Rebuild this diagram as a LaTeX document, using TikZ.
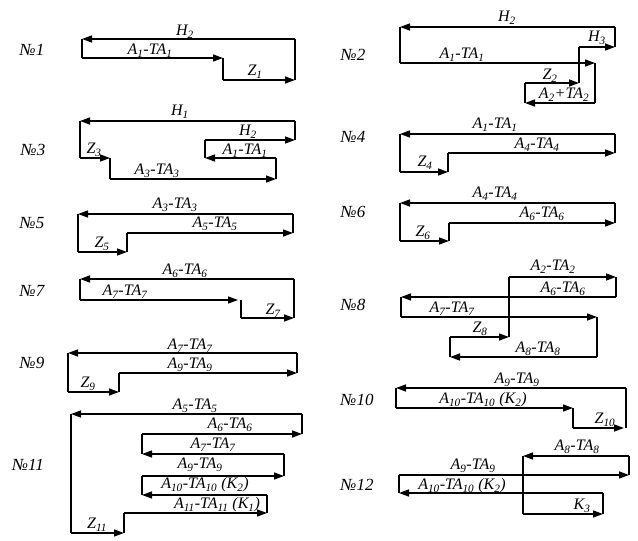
\documentclass[tikz,border=0pt]{standalone}
\usepackage{fontspec}
\setmainfont{Liberation Serif}
\usetikzlibrary{arrows.meta}
\newcommand\subs[1]{\textsubscript{#1}}
\tikzset{
  dim/.style={line width=1.4pt,-{Triangle[length=10pt,width=7pt]}},
  ln/.style={line width=1.4pt},
  lab/.style={font=\fontsize{16}{18}\selectfont\itshape,inner sep=0pt},
  num/.style={font=\fontsize{17}{19}\selectfont\itshape,inner sep=0pt}
}
\begin{document}
\begin{tikzpicture}[x=1pt,y=-1pt]
\useasboundingbox (0,0) rectangle (638,541);
% No1
\node[num] (n1) at (32,50) {№1};
\draw[dim] (295,39)--(82,39); \draw[ln] (295,39)--(295,80); \draw[ln] (82,39)--(82,58);
\draw[dim] (82,58)--(223,58); \draw[ln] (223,58)--(223,80); \draw[dim] (223,80)--(295,80);
\node[lab] (t1a) at (185,32) {H\subs2};
\node[lab] (t1b) at (150,51) {A\subs1-TA\subs1};
\node[lab] (t1c) at (255,72) {Z\subs1};
% No2
\node[num] (n2) at (353,55) {№2};
\draw[dim] (615,27)--(400,27); \draw[ln] (400,27)--(400,63); \draw[dim] (400,63)--(595,63);
\draw[ln] (595,63)--(595,103); \draw[dim] (595,103)--(525,103); \draw[ln] (525,103)--(525,83);
\draw[dim] (525,83)--(579,83); \draw[ln] (579,83)--(579,47); \draw[dim] (579,47)--(615,47);
\draw[ln] (615,47)--(615,27);
\node[lab] (t2a) at (507,18) {H\subs2};
\node[lab] (t2b) at (597,38) {H\subs3};
\node[lab] (t2c) at (462,55) {A\subs1-TA\subs1};
\node[lab] (t2d) at (550,76) {Z\subs2};
\node[lab] (t2e) at (564,95) {A\subs2+TA\subs2};
% No3
\node[num] (n3) at (33,150) {№3};
\draw[dim] (295,121)--(80,121); \draw[ln] (295,121)--(295,140); \draw[dim] (205,140)--(295,140);
\draw[ln] (205,140)--(205,158); \draw[dim] (276,158)--(205,158); \draw[ln] (276,158)--(276,179);
\draw[dim] (110,179)--(276,179); \draw[ln] (110,179)--(110,158); \draw[dim] (80,158)--(110,158);
\draw[ln] (80,158)--(80,121);
\node[lab] (t3a) at (180,112) {H\subs1};
\node[lab] (t3b) at (248,132) {H\subs2};
\node[lab] (t3c) at (245,151) {A\subs1-TA\subs1};
\node[lab] (t3d) at (94,150) {Z\subs3};
\node[lab] (t3e) at (157,171) {A\subs3-TA\subs3};
% No4
\node[num] (n4) at (353,137) {№4};
\draw[dim] (615,134)--(400,134); \draw[ln] (615,134)--(615,153); \draw[dim] (448,153)--(615,153);
\draw[ln] (448,153)--(448,172); \draw[dim] (400,172)--(448,172); \draw[ln] (400,172)--(400,134);
\node[lab] (t4a) at (495,125) {A\subs1-TA\subs1};
\node[lab] (t4b) at (537,145) {A\subs4-TA\subs4};
\node[lab] (t4c) at (425,163) {Z\subs4};
% No5
\node[num] (n5) at (32,223) {№5};
\draw[dim] (293,214)--(78,214); \draw[ln] (293,214)--(293,233); \draw[dim] (127,233)--(293,233);
\draw[ln] (127,233)--(127,252); \draw[dim] (78,252)--(127,252); \draw[ln] (78,252)--(78,214);
\node[lab] (t5a) at (175,205) {A\subs3-TA\subs3};
\node[lab] (t5b) at (215,224) {A\subs5-TA\subs5};
\node[lab] (t5c) at (102,244) {Z\subs5};
% No6
\node[num] (n6) at (353,212) {№6};
\draw[dim] (615,203)--(400,203); \draw[ln] (615,203)--(615,223); \draw[dim] (449,223)--(615,223);
\draw[ln] (449,223)--(449,241); \draw[dim] (400,241)--(449,241); \draw[ln] (400,241)--(400,203);
\node[lab] (t6a) at (495,194) {A\subs4-TA\subs4};
\node[lab] (t6b) at (542,214) {A\subs6-TA\subs6};
\node[lab] (t6c) at (423,233) {Z\subs6};
% No7
\node[num] (n7) at (32,291) {№7};
\draw[dim] (294,279)--(80,279); \draw[ln] (80,279)--(80,300); \draw[dim] (80,300)--(238,300);
\draw[ln] (241,300)--(241,318); \draw[dim] (241,318)--(294,318); \draw[ln] (294,318)--(294,279);
\node[lab] (t7a) at (185,271) {A\subs6-TA\subs6};
\node[lab] (t7b) at (125,292) {A\subs7-TA\subs7};
\node[lab] (t7c) at (273,311) {Z\subs7};
% No8
\node[num] (n8) at (353,305) {№8};
\draw[dim] (509,277)--(616,277); \draw[ln] (616,277)--(616,297); \draw[dim] (616,297)--(401,297);
\draw[ln] (401,297)--(401,317); \draw[dim] (401,317)--(597,317); \draw[ln] (597,317)--(597,357);
\draw[dim] (597,357)--(450,357); \draw[ln] (450,357)--(450,337); \draw[dim] (450,337)--(509,337);
\draw[ln] (509,337)--(509,277);
\node[lab] (t8a) at (553,267) {A\subs2-TA\subs2};
\node[lab] (t8b) at (563,289) {A\subs6-TA\subs6};
\node[lab] (t8c) at (452,309) {A\subs7-TA\subs7};
\node[lab] (t8d) at (480,329) {Z\subs8};
\node[lab] (t8e) at (538,349) {A\subs8-TA\subs8};
% No9
\node[num] (n9) at (32,363) {№9};
\draw[dim] (297,353)--(68,353); \draw[ln] (297,353)--(297,373); \draw[dim] (119,373)--(297,373);
\draw[ln] (119,373)--(119,392); \draw[dim] (68,392)--(119,392); \draw[ln] (68,392)--(68,353);
\node[lab] (t9a) at (190,346) {A\subs7-TA\subs7};
\node[lab] (t9b) at (190,365) {A\subs9-TA\subs9};
\node[lab] (t9c) at (88,384) {Z\subs9};
% No10
\node[num] (n10) at (357,400) {№10};
\draw[dim] (626,388)--(396,388); \draw[ln] (396,388)--(396,408); \draw[dim] (396,408)--(573,408);
\draw[ln] (573,408)--(573,428); \draw[dim] (573,428)--(624,428); \draw[ln] (626,388)--(626,428);
\node[lab] (t10a) at (517,380) {A\subs9-TA\subs9};
\node[lab] (t10b) at (483,400) {A\subs{10}-TA\subs{10} (K\subs2)};
\node[lab] (t10c) at (605,420) {Z\subs{10}};
% No11
\node[num] (n11) at (28,465) {№11};
\draw[dim] (302,414)--(71,414); \draw[ln] (302,414)--(302,434); \draw[dim] (142,434)--(302,434);
\draw[ln] (142,434)--(142,454); \draw[dim] (284,454)--(142,454); \draw[ln] (284,454)--(284,476);
\draw[dim] (142,476)--(284,476); \draw[ln] (142,476)--(142,495); \draw[dim] (267,495)--(142,495);
\draw[ln] (267,495)--(267,513); \draw[dim] (124,513)--(267,513); \draw[ln] (124,513)--(124,533);
\draw[dim] (71,533)--(124,533); \draw[ln] (71,533)--(71,414);
\node[lab] (t11a) at (195,406) {A\subs5-TA\subs5};
\node[lab] (t11b) at (230,425) {A\subs6-TA\subs6};
\node[lab] (t11c) at (213,445) {A\subs7-TA\subs7};
\node[lab] (t11d) at (200,465) {A\subs9-TA\subs9};
\node[lab] (t11e) at (205,485) {A\subs{10}-TA\subs{10} (K\subs2)};
\node[lab] (t11f) at (217,505) {A\subs{11}-TA\subs{11} (K\subs1)};
\node[lab] (t11g) at (97,525) {Z\subs{11}};
% No12
\node[num] (n12) at (357,485) {№12};
\draw[dim] (629,456)--(523,456); \draw[ln] (629,456)--(629,475); \draw[dim] (399,475)--(629,475);
\draw[ln] (399,475)--(399,493); \draw[dim] (603,493)--(399,493); \draw[ln] (603,493)--(603,514);
\draw[dim] (523,514)--(603,514); \draw[ln] (523,514)--(523,456);
\node[lab] (t12a) at (577,447) {A\subs8-TA\subs8};
\node[lab] (t12b) at (473,466) {A\subs9-TA\subs9};
\node[lab] (t12c) at (462,486) {A\subs{10}-TA\subs{10} (K\subs2)};
\node[lab] (t12d) at (582,506) {K\subs3};
\end{tikzpicture}
\end{document}
